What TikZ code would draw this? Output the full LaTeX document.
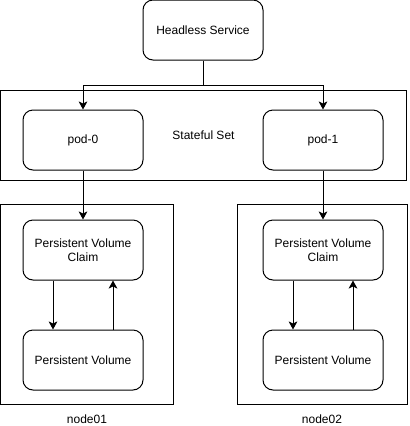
\documentclass[tikz,border=0pt]{standalone}
\usepackage{fontspec}
\setmainfont{Liberation Sans}
\usetikzlibrary{arrows.meta,calc,positioning}

\tikzset{
	every path/.style={line width=0.75pt},
	box/.style={draw,rounded corners=7.5pt,minimum width=90pt,minimum height=45pt,
		inner sep=0pt,align=center,font=\fontsize{9}{10.5}\selectfont},
	group/.style={draw,inner sep=0pt,font=\fontsize{9}{10.5}\selectfont},
}

\begin{document}
\begin{tikzpicture}[x=0.75pt,y=-0.75pt,>={Stealth[length=6pt,width=6.5pt,inset=1.5pt]}]
	\useasboundingbox (0,0) rectangle (410,426);
	\node [group,minimum width=304.5pt,minimum height=67.5pt] (statefulset) at (203.5,135) {Stateful Set};
	\foreach \p/\n/\x/\gx/\gw in {0/01/83/87/129.75pt,1/02/323/322/127.5pt}
		\node [group,minimum width=\gw,minimum height=150pt,
			label={[label distance=4pt,font=\fontsize{9}{10.5}\selectfont]below:node\n}]
			(node\n) at (\gx,304.3) {};
	\node [box] (service) at (203,30) {Headless Service};
	\coordinate (split) at (203,85);
	\draw (service) -- (split);
	\foreach \p/\n/\x/\gx/\gw in {0/01/83/87/129.75pt,1/02/323/322/127.5pt} {
		\node [box] (pod-\p) at (\x,140) {pod-\p};
		\node [box] (pvc-\p) at (\x,250) {Persistent Volume\\Claim};
		\node [box] (pv-\p) at (\x,360) {Persistent Volume};
		\draw [->] (split) -| (pod-\p);
		\draw [->] (pod-\p) -- (pvc-\p);
		\draw [->] ([xshift=-22.5pt]pvc-\p.south) -- ([xshift=-22.5pt]pv-\p.north);
		\draw [->] ([xshift=22.5pt]pv-\p.north) -- ([xshift=22.5pt]pvc-\p.south);
	}
\end{tikzpicture}
\end{document}
